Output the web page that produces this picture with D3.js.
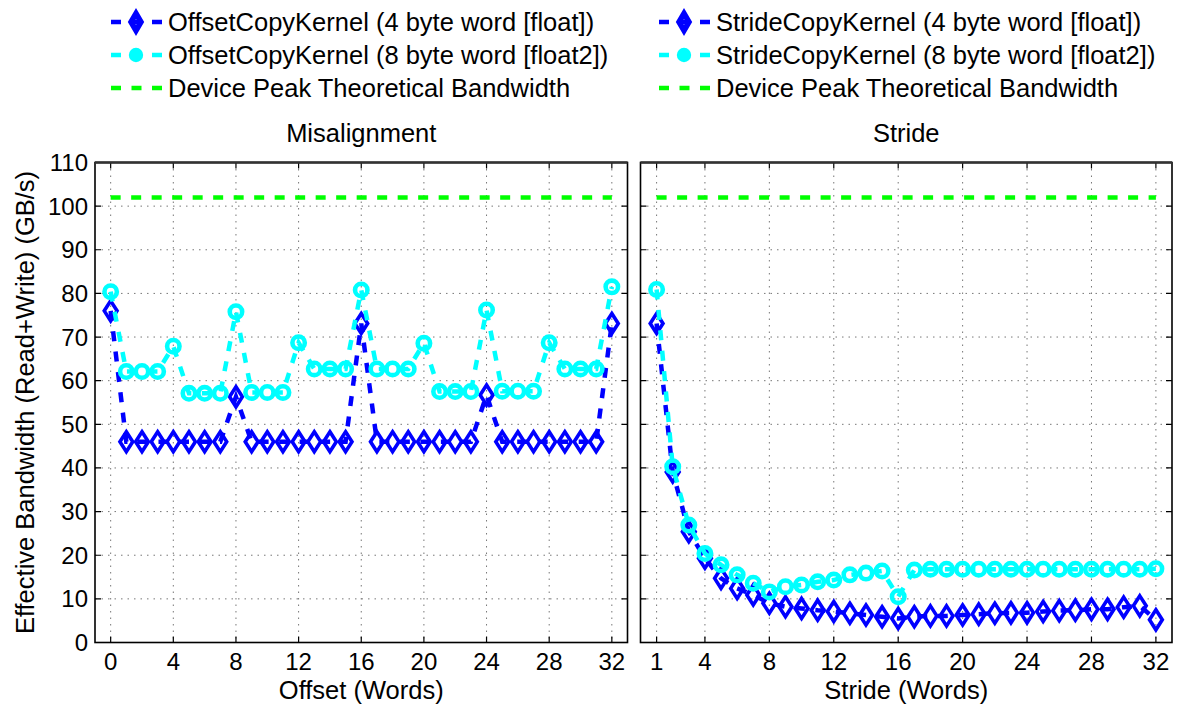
<!DOCTYPE html>
<html>
<head>
<meta charset="utf-8">
<script src="https://cdn.jsdelivr.net/npm/d3@7"></script>
<style>
  body { margin: 0; background: #fff; }
  text { font-family: "Liberation Sans", Arial, Helvetica, sans-serif; fill: #000; }
</style>
</head>
<body>
<svg id="chart"></svg>
<script>
let w = 1177
let h = 706

// data
let offsets = d3.range(0, 33)
let strides = d3.range(1, 33)

let offsetFloat = [76, 46, 46, 46, 46, 46, 46, 46, 56.3, 46, 46, 46, 46, 46, 46, 46,
  73.1, 46, 46, 46, 46, 46, 46, 46, 56.7, 46, 46, 46, 46, 46, 46, 46, 73.1]
let offsetFloat2 = [80.4, 62.1, 62.1, 62.1, 67.9, 57.1, 57.1, 57.1, 75.8, 57.3, 57.3, 57.3,
  68.7, 62.7, 62.7, 62.7, 80.8, 62.7, 62.7, 62.7, 68.6, 57.5, 57.5, 57.5, 76.2, 57.6, 57.6, 57.6,
  68.7, 62.7, 62.7, 62.7, 81.5]

let strideFloat = [73.1, 39.1, 25.4, 19.3, 14.7, 12.4, 10.9, 9.0, 8.2, 7.8, 7.4, 7.1, 6.7, 6.3, 5.9, 5.5,
  5.9, 6.1, 6.1, 6.3, 6.5, 6.7, 6.8, 6.8, 7.1, 7.3, 7.4, 7.6, 7.6, 8.1, 8.4, 5.2]
let strideFloat2 = [80.9, 40.3, 26.9, 20.4, 17.8, 15.5, 13.6, 11.6, 12.8, 13.2, 13.9, 14.3, 15.5, 15.9, 16.4, 10.5,
  16.6, 16.8, 16.8, 16.8, 16.8, 16.8, 16.8, 16.8, 16.8, 16.8, 16.8, 16.8, 16.8, 16.8, 16.8, 16.9]

let peakBandwidth = 102

let yTicks = [0, 10, 20, 30, 40, 50, 60, 70, 80, 90, 100, 110]
let offsetTicks = [0, 4, 8, 12, 16, 20, 24, 28, 32]
let strideTicks = [1, 4, 8, 12, 16, 20, 24, 28, 32]

let titles = ['Misalignment', 'Stride']
let xLabels = ['Offset (Words)', 'Stride (Words)']
let yLabel = 'Effective Bandwidth (Read+Write) (GB/s)'
let legendOffset = ['OffsetCopyKernel (4 byte word [float])', 'OffsetCopyKernel (8 byte word [float2])', 'Device Peak Theoretical Bandwidth']
let legendStride = ['StrideCopyKernel (4 byte word [float])', 'StrideCopyKernel (8 byte word [float2])', 'Device Peak Theoretical Bandwidth']

let blue = '#0000ff'
let cyan = '#00ffff'
let green = '#00ff00'
let dash = '10,10.5'
let fs = 24       // tick labels
let lfs = 25.5    // titles, axis labels, legend

let svg = d3.select('#chart')
  .attr('width', w)
  .attr('height', h)

let yTop = 162.5, yBottom = 642.5
let y = d3.scaleLinear().domain([0, 110]).range([yBottom, yTop])

// MATLAB style diamond, a bit taller than wide
let diamondPath = (hw, hh) => `M0,${-hh}L${hw},0L0,${hh}L${-hw},0Z`
let circle = d3.symbol(d3.symbolCircle, 121)

let panels = [
  { left: 95, right: 627.5, domain: [-1, 33], xs: offsets, s1: offsetFloat, s2: offsetFloat2, ticks: offsetTicks, title: titles[0], xlabel: xLabels[0], yLabels: true },
  { left: 640.5, right: 1172, domain: [0, 33], xs: strides, s1: strideFloat, s2: strideFloat2, ticks: strideTicks, title: titles[1], xlabel: xLabels[1], yLabels: false }
]

panels.forEach(p => {
  let x = d3.scaleLinear().domain(p.domain).range([p.left, p.right])
  let g = svg.append('g')

  // dotted grid
  g.selectAll('.gx').data(p.ticks).join('line')
    .attr('x1', d => x(d)).attr('x2', d => x(d))
    .attr('y1', yTop).attr('y2', yBottom)
    .attr('stroke', '#777').attr('stroke-width', 1).attr('stroke-dasharray', '1.5,5')
  g.selectAll('.gy').data(yTicks.slice(1, -1)).join('line')
    .attr('x1', p.left).attr('x2', p.right)
    .attr('y1', d => y(d)).attr('y2', d => y(d))
    .attr('stroke', '#777').attr('stroke-width', 1).attr('stroke-dasharray', '1.5,5')

  // ticks inside on all sides
  g.selectAll('.tx').data(p.ticks).join('path')
    .attr('d', d => `M${x(d)},${yBottom}v-6M${x(d)},${yTop}v6`)
    .attr('stroke', '#000').attr('stroke-width', 1.2)
  g.selectAll('.ty').data(yTicks).join('path')
    .attr('d', d => `M${p.left},${y(d)}h6M${p.right},${y(d)}h-6`)
    .attr('stroke', '#000').attr('stroke-width', 1.2)

  // box
  g.append('rect')
    .attr('x', p.left).attr('y', yTop)
    .attr('width', p.right - p.left).attr('height', yBottom - yTop)
    .attr('fill', 'none').attr('stroke', '#000').attr('stroke-width', 1.6)
  g.append('line')
    .attr('x1', p.left).attr('x2', p.right).attr('y1', yTop).attr('y2', yTop)
    .attr('stroke', '#333').attr('stroke-width', 2.5)

  // tick labels
  g.selectAll('.xl').data(p.ticks).join('text')
    .attr('x', d => x(d)).attr('y', 670)
    .attr('text-anchor', 'middle').attr('font-size', fs)
    .text(d => d)
  if (p.yLabels) {
    g.selectAll('.yl').data(yTicks).join('text')
      .attr('x', 88).attr('y', d => y(d) + 8.5)
      .attr('text-anchor', 'end').attr('font-size', fs)
      .text(d => d)
  }

  g.append('text')
    .attr('x', (p.left + p.right) / 2).attr('y', 699)
    .attr('text-anchor', 'middle').attr('font-size', lfs)
    .text(p.xlabel)
  g.append('text')
    .attr('x', (p.left + p.right) / 2).attr('y', 142)
    .attr('text-anchor', 'middle').attr('font-size', lfs)
    .text(p.title)

  let line = d3.line().x(d => x(d[0])).y(d => y(d[1]))
  let pts1 = p.xs.map((v, i) => [v, p.s1[i]])
  let pts2 = p.xs.map((v, i) => [v, p.s2[i]])

  // peak line
  g.append('path')
    .attr('d', line([[p.xs[0], peakBandwidth], [p.xs[p.xs.length - 1], peakBandwidth]]))
    .attr('stroke', green).attr('stroke-width', 4.5).attr('stroke-dasharray', dash).attr('fill', 'none')

  // 4 byte series
  g.append('path').attr('d', line(pts1))
    .attr('stroke', blue).attr('stroke-width', 4.5).attr('stroke-dasharray', dash).attr('fill', 'none')
  g.selectAll('.m1').data(pts1).join('path')
    .attr('d', diamondPath(6.4, 10))
    .attr('transform', d => `translate(${x(d[0])},${y(d[1])})`)
    .attr('fill', 'none').attr('stroke', blue).attr('stroke-width', 3.6)

  // 8 byte series
  g.append('path').attr('d', line(pts2))
    .attr('stroke', cyan).attr('stroke-width', 4.5).attr('stroke-dasharray', dash).attr('fill', 'none')
  g.selectAll('.m2').data(pts2).join('path')
    .attr('d', circle)
    .attr('transform', d => `translate(${x(d[0])},${y(d[1])})`)
    .attr('fill', 'none').attr('stroke', cyan).attr('stroke-width', 4.6)
})

// y axis label
svg.append('text')
  .attr('transform', `translate(34,${(yTop + yBottom) / 2}) rotate(-90)`)
  .attr('text-anchor', 'middle').attr('font-size', lfs)
  .text(yLabel)

// legends
let drawLegend = (x0, labels) => {
  let rows = [22, 55, 88]
  let colors = [blue, cyan, green]
  labels.forEach((t, i) => {
    let g = svg.append('g').attr('transform', `translate(${x0},${rows[i]})`)
    g.append('line').attr('x1', 0).attr('x2', 52).attr('y1', 0).attr('y2', 0)
      .attr('stroke', colors[i]).attr('stroke-width', 4.5).attr('stroke-dasharray', dash)
    if (i === 0) {
      g.append('path').attr('d', diamondPath(5, 8.5)).attr('transform', 'translate(25,0)')
        .attr('fill', 'none').attr('stroke', blue).attr('stroke-width', 5.5)
    }
    if (i === 1) {
      g.append('path').attr('d', d3.symbol(d3.symbolCircle, 55)).attr('transform', 'translate(25,0)')
        .attr('fill', 'none').attr('stroke', cyan).attr('stroke-width', 6)
    }
    g.append('text').attr('x', 57).attr('y', 9).attr('font-size', lfs).text(t)
  })
}
drawLegend(111, legendOffset)
drawLegend(659, legendStride)
</script>
</body>
</html>
